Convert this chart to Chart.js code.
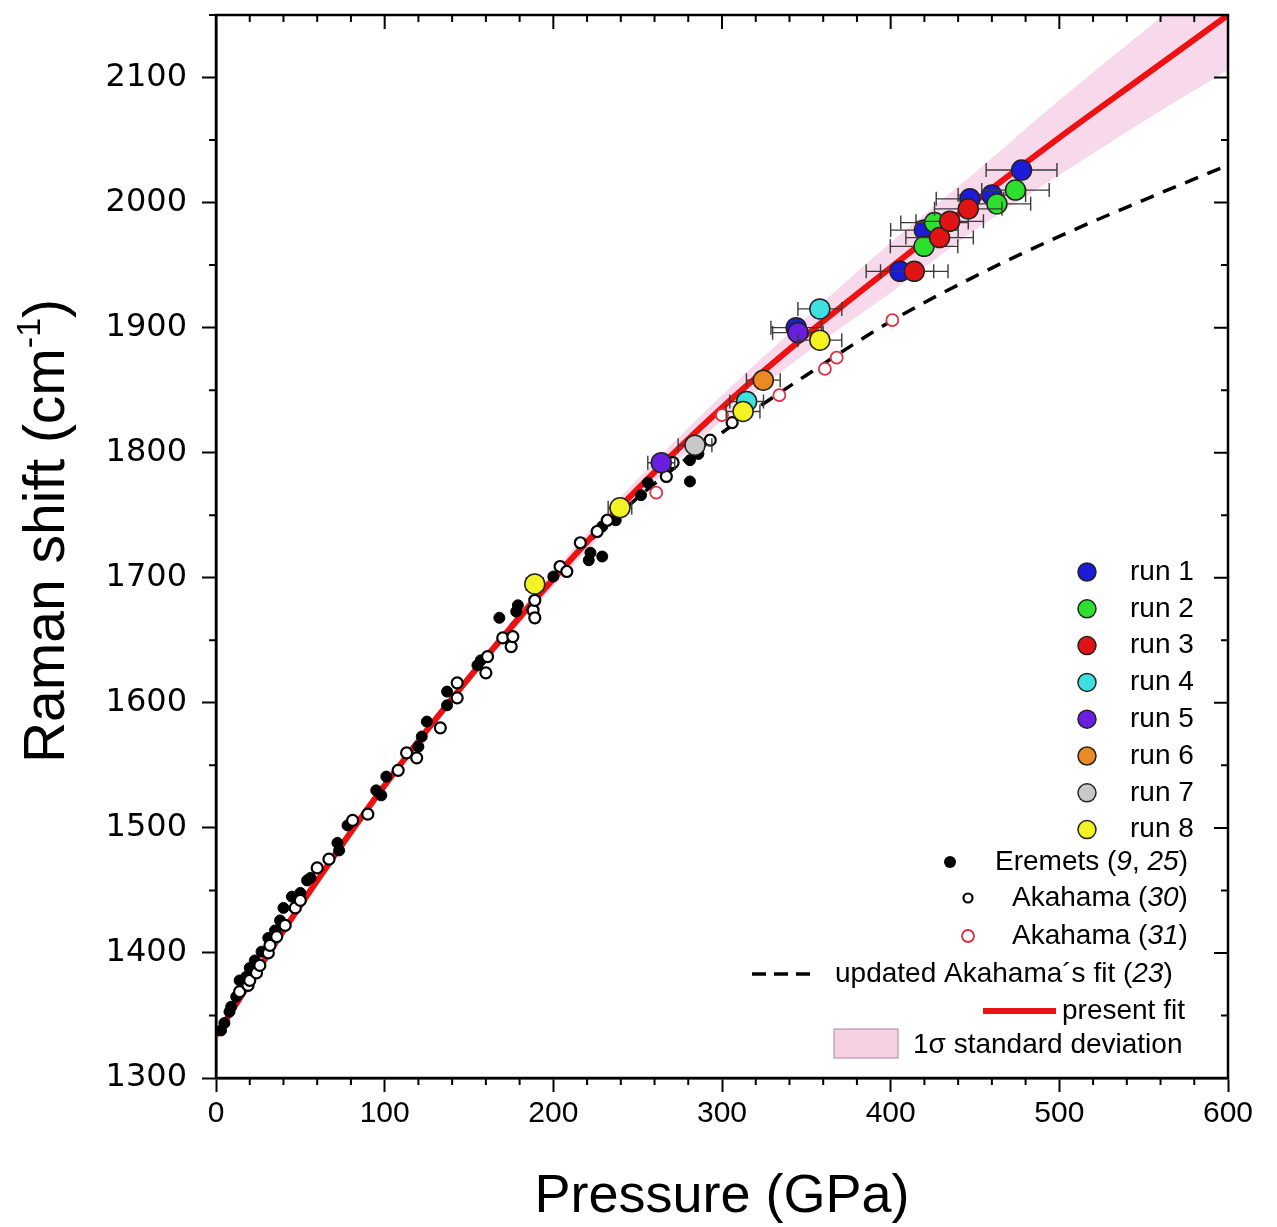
<!DOCTYPE html>
<html>
<head>
<meta charset="utf-8">
<script src="https://cdn.jsdelivr.net/npm/chart.js@4.4.0/dist/chart.umd.min.js"></script>
<style>
  html, body { margin: 0; padding: 0; background: #fff; }
  canvas { display: block; }
</style>
</head>
<body>
<canvas id="myChart" width="1277" height="1227" style="width:1277px;height:1227px"></canvas>
<script>
// --- data ---
const fitPressure = [0, 50, 100, 150, 200, 250, 300, 350, 400, 450, 500, 550, 600];
const presentFit = [1334, 1438, 1534, 1620, 1699, 1771, 1836, 1894, 1948, 2001, 2052, 2101, 2150];
const sigmaUpper = [1336, 1440, 1537, 1624, 1705, 1779, 1846, 1908, 1968, 2024, 2082, 2137, 2194];
const sigmaLower = [1332, 1436, 1531, 1616, 1693, 1763, 1826, 1880, 1928, 1978, 2022, 2065, 2106];
const akahamaFit = [1334, 1438, 1535, 1621, 1700, 1764, 1816, 1862, 1905, 1941, 1973, 2002, 2030];

const eremets = [
  [3, 1338], [5, 1344], [8, 1353], [9, 1357], [12, 1365], [14, 1378], [18, 1381], [20, 1388],
  [23, 1394], [27, 1401], [31, 1412], [35, 1418], [38, 1426], [40, 1436], [45, 1445], [50, 1448],
  [54, 1458], [56, 1460], [72, 1488], [73, 1482], [78, 1502], [95, 1530], [98, 1526], [101, 1541],
  [120, 1565], [122, 1573], [125, 1585], [137, 1598], [137, 1609], [155, 1630], [157, 1634],
  [168, 1668], [178, 1673], [179, 1678], [200, 1701], [221, 1714], [222, 1720], [229, 1717],
  [229, 1741], [237, 1746], [252, 1766], [256, 1776], [281, 1777], [281, 1794], [286, 1799]
];
const akahama30 = [
  [14, 1369], [19, 1374], [20, 1378], [24, 1384], [26, 1390], [31, 1400], [32, 1406], [36, 1413],
  [41, 1422], [47, 1436], [50, 1442], [60, 1468], [67, 1475], [81, 1506], [90, 1511], [108, 1546],
  [113, 1560], [119, 1556], [133, 1580], [143, 1604], [143, 1616], [160, 1624], [161, 1637],
  [170, 1652], [175, 1645], [176, 1653], [188, 1674], [189, 1668], [189, 1682], [204, 1709],
  [208, 1705], [216, 1728], [226, 1737], [232, 1746], [267, 1781], [271, 1792], [293, 1810], [306, 1824]
];
const akahama31 = [[261, 1768], [300, 1830], [334, 1846], [361, 1867], [368, 1876], [401, 1906]];

// runs: [pressure, raman shift, pressure error]
const run1 = [[344, 1900, 15], [405.5, 1945, 20], [420, 1978, 20], [447, 2003, 20], [460, 2006, 20], [477.6, 2026, 21]];
const run2 = [[419.8, 1965, 20], [426, 1984, 20], [463, 1999, 20], [474, 2010, 20]];
const run3 = [[414, 1945, 20], [429, 1972, 20], [435, 1985, 20], [446, 1995, 20]];
const run4 = [[314.6, 1841, 10], [358, 1915, 13]];
const run5 = [[264, 1792, 8], [345, 1896, 15]];
const run6 = [[324.5, 1858, 10]];
const run7 = [[284, 1806, 10]];
const run8 = [[189, 1695, 5], [239.5, 1756, 7], [312.5, 1833, 10], [358, 1890, 13]];

const runColors = ['#1c1cd8', '#2ee02e', '#e01414', '#3ee0e0', '#6a1ee0', '#ea8a22', '#c8c8c8', '#f2f224'];
const runs = [run1, run2, run3, run4, run5, run6, run7, run8];

const FONT = "'Liberation Sans', Arial, sans-serif";

function pts(arr) { return arr.map(p => ({ x: p[0], y: p[1] })); }
function curve(ys) { return fitPressure.map((p, i) => ({ x: p, y: ys[i] })); }

const datasets = [];
runs.forEach((r, i) => {
  datasets.push({
    label: 'run ' + (i + 1), data: pts(r), xErr: r.map(p => p[2]),
    showLine: false, pointRadius: 10, pointBackgroundColor: runColors[i],
    pointBorderColor: '#222', pointBorderWidth: 1.5, order: 20 - i
  });
});
datasets.push({ label: 'Akahama (31)', data: pts(akahama31), showLine: false, pointRadius: 6,
  pointBackgroundColor: '#fff', pointBorderColor: '#e03040', pointBorderWidth: 1.8, order: 30 });
datasets.push({ label: 'Akahama (30)', data: pts(akahama30), showLine: false, pointRadius: 5.5,
  pointBackgroundColor: '#fff', pointBorderColor: '#000', pointBorderWidth: 2.2, order: 31 });
datasets.push({ label: 'Eremets (9, 25)', data: pts(eremets), showLine: false, pointRadius: 5.5,
  pointBackgroundColor: '#000', pointBorderColor: '#000', pointBorderWidth: 1, order: 32 });
datasets.push({ label: 'present fit', data: curve(presentFit), showLine: true, borderColor: '#ee1111',
  borderWidth: 6, pointRadius: 0, cubicInterpolationMode: 'monotone', fill: false, order: 40 });
datasets.push({ label: 'updated Akahama fit', data: curve(akahamaFit), showLine: true, borderColor: '#000',
  borderWidth: 3.5, borderDash: [14, 10], pointRadius: 0, cubicInterpolationMode: 'monotone', fill: false, order: 41 });
datasets.push({ label: 'sigma upper', data: curve(sigmaUpper), showLine: true, borderWidth: 0, borderColor: 'rgba(0,0,0,0)',
  pointRadius: 0, cubicInterpolationMode: 'monotone', fill: '+1', backgroundColor: 'rgba(240,170,210,0.45)', order: 50 });
datasets.push({ label: 'sigma lower', data: curve(sigmaLower), showLine: true, borderWidth: 0, borderColor: 'rgba(0,0,0,0)',
  pointRadius: 0, cubicInterpolationMode: 'monotone', fill: false, order: 51 });

// horizontal error bars, drawn just under each run's markers
const errorBars = {
  id: 'errorBars',
  beforeDatasetDraw(chart, args) {
    const ds = chart.data.datasets[args.index];
    if (!ds.xErr) return;
    const { ctx, scales: { x, y } } = chart;
    ctx.save();
    ctx.strokeStyle = '#3a3a3a';
    ctx.lineWidth = 1.4;
    ds.data.forEach((p, i) => {
      const e = ds.xErr[i];
      const x0 = x.getPixelForValue(p.x - e), x1 = x.getPixelForValue(p.x + e);
      const py = y.getPixelForValue(p.y);
      ctx.beginPath();
      ctx.moveTo(x0, py); ctx.lineTo(x1, py);
      ctx.moveTo(x0, py - 7); ctx.lineTo(x0, py + 7);
      ctx.moveTo(x1, py - 7); ctx.lineTo(x1, py + 7);
      ctx.stroke();
    });
    ctx.restore();
  }
};

// frame, mirrored ticks and minor ticks
const frameTicks = {
  id: 'frameTicks',
  afterDraw(chart) {
    const { ctx, chartArea: a, scales: { x, y } } = chart;
    ctx.save();
    ctx.strokeStyle = '#000';
    ctx.lineWidth = 2.5;
    ctx.strokeRect(a.left, a.top, a.right - a.left, a.bottom - a.top);
    ctx.lineWidth = 2;
    ctx.beginPath();
    for (let v = 0; v <= 600; v += 20) {
      const px = x.getPixelForValue(v);
      const major = v % 100 === 0;
      if (!major) { ctx.moveTo(px, a.bottom); ctx.lineTo(px, a.bottom + 7); }
      ctx.moveTo(px, a.top); ctx.lineTo(px, a.top + (major ? 14 : 7));
    }
    for (let v = 1300; v <= 2150; v += 50) {
      const py = y.getPixelForValue(v);
      const major = v % 100 === 0;
      if (!major) { ctx.moveTo(a.left, py); ctx.lineTo(a.left - 7, py); }
      ctx.moveTo(a.right, py); ctx.lineTo(a.right - (major ? 14 : 7), py);
    }
    ctx.stroke();
    ctx.restore();
  }
};

function drawRich(ctx, x, y, parts, size) {
  let cx = x;
  parts.forEach(p => {
    ctx.font = (p[1] ? 'italic ' : '') + size + 'px ' + FONT;
    ctx.fillText(p[0], cx, y);
    cx += ctx.measureText(p[0]).width;
  });
}

// titles and legend
const annotations = {
  id: 'annotations',
  afterDraw(chart) {
    const { ctx } = chart;
    ctx.save();
    ctx.fillStyle = '#000';
    ctx.textBaseline = 'alphabetic';

    // x title
    ctx.font = '54px ' + FONT;
    ctx.textAlign = 'center';
    ctx.fillText('Pressure (GPa)', 722, 1212);

    // y title with superscript
    ctx.save();
    ctx.translate(64, 531);
    ctx.rotate(-Math.PI / 2);
    ctx.textAlign = 'left';
    const a = 'Raman shift (cm', c = ')';
    ctx.font = '34px ' + FONT;
    const wb = ctx.measureText('-1').width;
    ctx.font = '57px ' + FONT;
    const wa = ctx.measureText(a).width, wc = ctx.measureText(c).width;
    const sx = -(wa + wb + wc) / 2;
    ctx.fillText(a, sx, 0);
    ctx.font = '34px ' + FONT;
    ctx.fillText('-1', sx + wa, -24);
    ctx.font = '57px ' + FONT;
    ctx.fillText(c, sx + wa + wb, 0);
    ctx.restore();

    // legend
    ctx.textAlign = 'left';
    ctx.textBaseline = 'middle';
    const fs = 28;
    runColors.forEach((col, i) => {
      const ly = 572 + i * 36.8;
      ctx.beginPath();
      ctx.arc(1087, ly, 9, 0, Math.PI * 2);
      ctx.fillStyle = col; ctx.fill();
      ctx.lineWidth = 1.5; ctx.strokeStyle = '#222'; ctx.stroke();
      ctx.fillStyle = '#000';
      drawRich(ctx, 1130, ly, [['run ' + (i + 1), false]], fs);
    });
    // Eremets
    ctx.beginPath(); ctx.arc(950, 862, 6, 0, Math.PI * 2); ctx.fillStyle = '#000'; ctx.fill();
    drawRich(ctx, 995, 862, [['Eremets (', false], ['9', true], [', ', false], ['25', true], [')', false]], fs);
    // Akahama 30
    ctx.beginPath(); ctx.arc(968, 898, 4.5, 0, Math.PI * 2);
    ctx.fillStyle = '#fff'; ctx.fill(); ctx.lineWidth = 2.2; ctx.strokeStyle = '#000'; ctx.stroke();
    ctx.fillStyle = '#000';
    drawRich(ctx, 1012, 898, [['Akahama (', false], ['30', true], [')', false]], fs);
    // Akahama 31
    ctx.beginPath(); ctx.arc(968, 936, 6, 0, Math.PI * 2);
    ctx.fillStyle = '#fff'; ctx.fill(); ctx.lineWidth = 1.8; ctx.strokeStyle = '#e03040'; ctx.stroke();
    ctx.fillStyle = '#000';
    drawRich(ctx, 1012, 936, [['Akahama (', false], ['31', true], [')', false]], fs);
    // dashed fit
    ctx.beginPath(); ctx.setLineDash([14, 8]); ctx.lineWidth = 3.5; ctx.strokeStyle = '#000';
    ctx.moveTo(752, 974); ctx.lineTo(814, 974); ctx.stroke(); ctx.setLineDash([]);
    drawRich(ctx, 835, 974, [['updated Akahama\u00b4s fit (', false], ['23', true], [')', false]], fs);
    // present fit
    ctx.beginPath(); ctx.lineWidth = 6; ctx.strokeStyle = '#ee1111';
    ctx.moveTo(983, 1011); ctx.lineTo(1056, 1011); ctx.stroke();
    drawRich(ctx, 1062, 1011, [['present fit', false]], fs);
    // sigma box
    ctx.fillStyle = 'rgba(240,190,215,0.7)';
    ctx.fillRect(834, 1029, 64, 29);
    ctx.lineWidth = 1; ctx.strokeStyle = '#b08898'; ctx.strokeRect(834, 1029, 64, 29);
    ctx.fillStyle = '#000';
    drawRich(ctx, 913, 1045, [['1\u03c3 standard deviation', false]], fs);
    ctx.restore();
  }
};

const ctx = document.getElementById('myChart');
new Chart(ctx, {
  type: 'scatter',
  data: { datasets: datasets },
  plugins: [errorBars, frameTicks, annotations],
  options: {
    responsive: false,
    animation: false,
    layout: { padding: { top: 15, right: 49, left: 0, bottom: 0 } },
    plugins: { legend: { display: false }, tooltip: { enabled: false } },
    scales: {
      x: {
        type: 'linear', min: 0, max: 600,
        ticks: { stepSize: 100, color: '#000', font: { family: FONT, size: 30 }, padding: 4, maxRotation: 0 },
        grid: { drawOnChartArea: false, tickLength: 14, tickWidth: 2, tickColor: '#000' },
        border: { color: '#000', width: 2.5 },
        afterFit(scale) { scale.height = 149; scale.paddingLeft = 0; scale.paddingRight = 0; }
      },
      y: {
        type: 'linear', min: 1300, max: 2150,
        ticks: { stepSize: 100, includeBounds: false, color: '#000', font: { family: "'DejaVu Sans', sans-serif", size: 32 }, padding: 15,
          callback: v => (v % 100 === 0 ? String(v) : '') },
        grid: { drawOnChartArea: false, tickLength: 14, tickWidth: 2, tickColor: '#000' },
        border: { color: '#000', width: 2.5 },
        afterFit(scale) { scale.width = 216; scale.paddingTop = 0; scale.paddingBottom = 0; }
      }
    }
  }
});
</script>
</body>
</html>
